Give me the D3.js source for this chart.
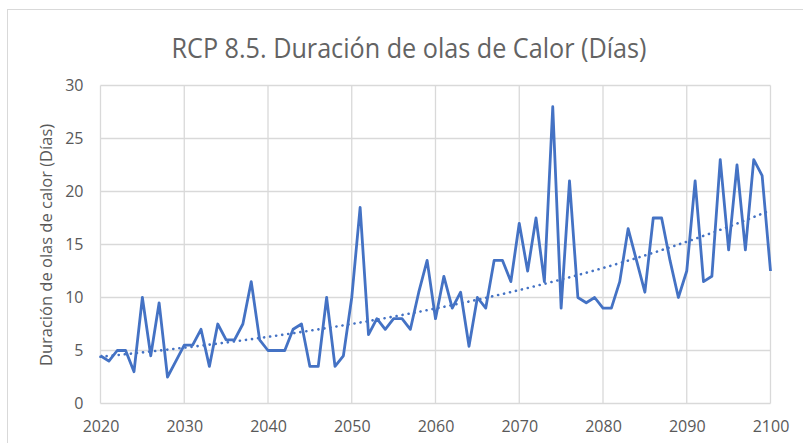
<!DOCTYPE html>
<html>
<head>
<meta charset="utf-8">
<script src="https://cdn.jsdelivr.net/npm/d3@7"></script>
<style>
  html, body { margin: 0; padding: 0; background: #fff; }
  svg { display: block; }
  text { font-family: "Open Sans", "Noto Sans", sans-serif; fill: #595959; }
</style>
</head>
<body>
<svg id="chart" width="803" height="443"></svg>
<script>
// Annual heat-wave duration (days) under RCP 8.5, 2020–2100
const years = d3.range(2020, 2101);
const days = [
  4.5, 4.0, 5.0, 5.0, 3.0, 10.0, 4.5, 9.5, 2.5, 4.0,   // 2020-2029
  5.5, 5.5, 7.0, 3.5, 7.5, 6.0, 6.0, 7.5, 11.5, 6.0,   // 2030-2039
  5.0, 5.0, 5.0, 7.0, 7.5, 3.5, 3.5, 10.0, 3.5, 4.5,   // 2040-2049
  10.0, 18.5, 6.5, 8.0, 7.0, 8.0, 8.0, 7.0, 10.5, 13.5, // 2050-2059
  8.0, 12.0, 9.0, 10.5, 5.4, 10.0, 9.0, 13.5, 13.5, 11.5, // 2060-2069
  17.0, 12.5, 17.5, 11.5, 28.0, 9.0, 21.0, 10.0, 9.5, 10.0, // 2070-2079
  9.0, 9.0, 11.5, 16.5, 13.5, 10.5, 17.5, 17.5, 13.5, 10.0, // 2080-2089
  12.5, 21.0, 11.5, 12.0, 23.0, 14.5, 22.5, 14.5, 23.0, 21.5, // 2090-2099
  12.5                                                   // 2100
];
const xTicks = [2020, 2030, 2040, 2050, 2060, 2070, 2080, 2090, 2100];
const yTicks = [0, 5, 10, 15, 20, 25, 30];

const titleText = "RCP 8.5. Duración de olas de Calor (Días)";
const yTitleText = "Duración de olas de calor (Días)";

const svg = d3.select("#chart");

// outer chart frame
svg.append("rect")
  .attr("x", 7.5).attr("y", 9.5)
  .attr("width", 800).attr("height", 460)
  .attr("fill", "#fff").attr("stroke", "#d9d9d9").attr("stroke-width", 1);

const x = d3.scaleLinear().domain([2020, 2100]).range([100.5, 770.5]);
const y = d3.scaleLinear().domain([0, 30]).range([403.5, 85.5]);

// gridlines
const grid = svg.append("g").attr("stroke", "#d9d9d9").attr("stroke-width", 1.3);
grid.selectAll("line.h").data(yTicks).join("line")
  .attr("x1", x(2020)).attr("x2", x(2100))
  .attr("y1", d => y(d)).attr("y2", d => y(d));
grid.selectAll("line.v").data(xTicks).join("line")
  .attr("x1", d => x(d)).attr("x2", d => x(d))
  .attr("y1", y(0)).attr("y2", y(30));

// axes (labels only, lines come from the grid)
const xAxis = svg.append("g")
  .attr("transform", `translate(0,${y(0)})`)
  .call(d3.axisBottom(x).tickValues(xTicks).tickFormat(d3.format("d")).tickSize(0).tickPadding(17.5));
const yAxis = svg.append("g")
  .attr("transform", `translate(${x(2020)},0)`)
  .call(d3.axisLeft(y).tickValues(yTicks).tickSize(0).tickPadding(17));
[xAxis, yAxis].forEach(a => {
  a.select(".domain").remove();
  a.selectAll("text").attr("font-size", 16).style("fill", "#595959")
    .attr("font-family", "'Open Sans', sans-serif");
});

// exponential trendline fitted on ln(days)
const mx = d3.mean(years), my = d3.mean(days, d => Math.log(d));
let sxy = 0, sxx = 0;
years.forEach((yr, i) => { sxy += (yr - mx) * (Math.log(days[i]) - my); sxx += (yr - mx) ** 2; });
const b = sxy / sxx, a = my - b * mx;
const trend = years.map(yr => ({ yr, v: Math.exp(a + b * yr) }));

svg.append("path")
  .datum(trend)
  .attr("fill", "none")
  .attr("stroke", "#4472C4")
  .attr("stroke-width", 2.6)
  .attr("stroke-linecap", "round")
  .attr("stroke-dasharray", "0.1 6")
  .attr("d", d3.line().x(d => x(d.yr)).y(d => y(d.v)));

// data series
svg.append("path")
  .datum(years.map((yr, i) => ({ yr, v: days[i] })))
  .attr("fill", "none")
  .attr("stroke", "#4472C4")
  .attr("stroke-width", 2.8)
  .attr("stroke-linejoin", "round")
  .attr("d", d3.line().x(d => x(d.yr)).y(d => y(d.v)));

// titles
svg.append("text")
  .attr("x", 409).attr("y", 58)
  .attr("text-anchor", "middle")
  .attr("font-size", 28)
  .attr("textLength", 475)
  .attr("lengthAdjust", "spacingAndGlyphs")
  .style("fill", "#636363")
  .text(titleText);

svg.append("text")
  .attr("transform", `translate(52,245) rotate(-90)`)
  .attr("text-anchor", "middle")
  .attr("font-size", 16.5)
  .text(yTitleText);
</script>
</body>
</html>
